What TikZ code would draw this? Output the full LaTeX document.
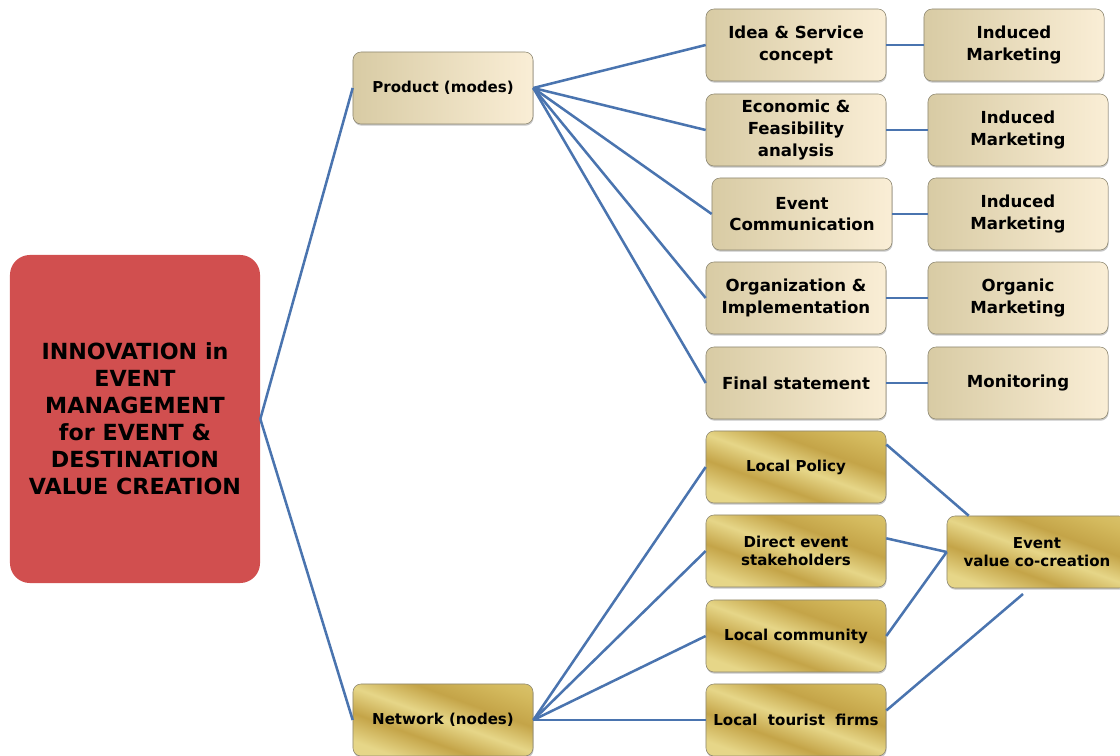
\documentclass[tikz,border=0pt]{standalone}
\usepackage{fontspec}
\setmainfont{DejaVu Sans}
\usetikzlibrary{shadows}
\definecolor{rootred}{RGB}{209,79,79}
\definecolor{creamL}{RGB}{216,203,164}
\definecolor{creamR}{RGB}{250,238,214}
\definecolor{goldA}{RGB}{230,214,136}
\definecolor{goldB}{RGB}{212,186,94}
\definecolor{goldC}{RGB}{196,164,72}
\definecolor{boxedge}{RGB}{140,134,112}
\definecolor{linkblue}{RGB}{74,116,175}
\pgfdeclarehorizontalshading{goldmetal}{100bp}{color(0bp)=(goldA); color(25bp)=(goldA); color(38bp)=(goldC); color(50bp)=(goldA); color(62bp)=(goldC); color(75bp)=(goldB); color(100bp)=(goldA)}
\tikzset{
  box/.style={draw=boxedge,rounded corners=0.2cm,minimum width=4.5cm,minimum height=1.8cm,inner sep=1pt,align=center,
    font=\bfseries\fontsize{11.8}{15.5}\selectfont,drop shadow={shadow xshift=0.4pt,shadow yshift=-1.2pt,opacity=0.45}},
  small/.style={font=\bfseries\fontsize{10.7}{12.5}\selectfont},
  cream/.style={box,left color=creamL,right color=creamR},
  gold/.style={box,shading=goldmetal,shading angle=70},
  rootbox/.style={fill=rootred,rounded corners=0.5cm,minimum width=6.25cm,minimum height=8.2cm,inner sep=1pt,align=center,
    font=\bfseries\fontsize{15.8}{19.2}\selectfont},
  link/.style={draw=linkblue,line width=1.8pt}
}
\begin{document}
\begin{tikzpicture}[x=0.025cm,y=-0.025cm]
\useasboundingbox (0,0) rectangle (1120,756);
\node[rootbox] (R) at (135,419) {INNOVATION in\\EVENT\\MANAGEMENT\\for EVENT \&\\DESTINATION\\VALUE CREATION};
\node[cream,small] (P) at (443,88) {Product (modes)};
\node[gold,small] (N) at (443,720) {Network (nodes)};
\node[cream] (I) at (796,45) {Idea \& Service\\concept};
\node[cream] (F) at (796,130) {Economic \&\\Feasibility\\analysis};
\node[cream] (C) at (802,214) {Event\\Communication};
\node[cream] (O) at (796,298) {Organization \&\\Implementation};
\node[cream] (S) at (796,383) {Final statement};
\node[cream] (M1) at (1014,45) {Induced\\Marketing};
\node[cream] (M2) at (1018,130) {Induced\\Marketing};
\node[cream] (M3) at (1018,214) {Induced\\Marketing};
\node[cream] (M4) at (1018,298) {Organic\\Marketing};
\node[cream] (M5) at (1018,383) {Monitoring};
\node[gold,small] (LP) at (796,467) {Local Policy};
\node[gold,small] (DS) at (796,551) {Direct event\\stakeholders};
\node[gold,small] (LC) at (796,636) {Local community};
\node[gold,small] (LT) at (796,720) {Local~~tourist~~firms};
\node[gold,small] (E) at (1037,552) {Event\\value co-creation};
\coordinate (Ef) at (1023,594);
\draw[link] (R.east) -- (P.west);
\draw[link] (R.east) -- (N.west);
\foreach \n in {I,F,C,O,S} \draw[link] (P.east) -- (\n.west);
\foreach \a/\b in {I/M1,F/M2,C/M3,O/M4,S/M5} \draw[link] (\a.east) -- (\b.west);
\foreach \n in {LP,DS,LC,LT} \draw[link] (N.east) -- (\n.west);
\draw[link] (LP.14) -- (E.152);
\draw[link] (DS.8) -- (E.west);
\draw[link] (LC.east) -- (E.west);
\draw[link] (LT.6) -- (Ef);
\end{tikzpicture}
\end{document}
